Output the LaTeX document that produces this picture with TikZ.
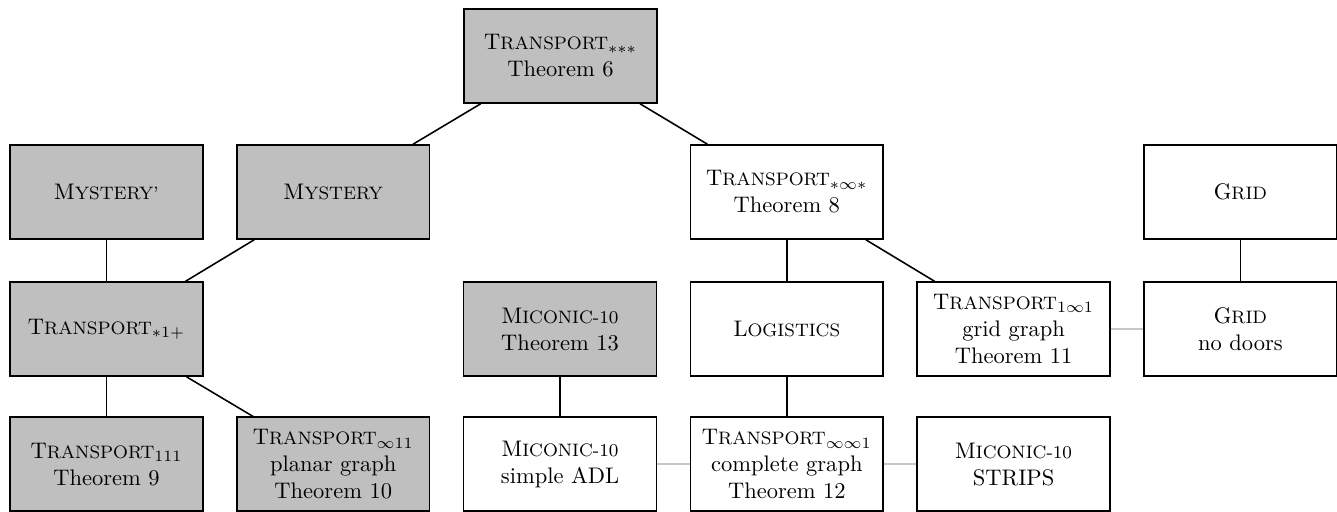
\documentclass[tikz,border=0pt]{standalone}
\usepackage{amsmath}
\usepackage{tikz}
\usetikzlibrary{arrows,positioning}
\usetikzlibrary{calc}

\newcommand{\fsc}[2]{#1{\footnotesize #2}}
\tikzset{
  domainbox/.style={draw, line width=0.7pt, align=center, minimum width=3.01cm, minimum height=1.467cm, inner sep=1pt},
  hard/.style={domainbox, fill=gray!50},
  easy/.style={domainbox, fill=white},
  reduces/.style={line width=0.7pt},
  sameline/.style={line width=0.7pt, draw=black!22}
}

\begin{document}
\begin{tikzpicture}
\useasboundingbox (0,0) rectangle (20.87,-7.99);
\node[hard] (tstar) at (8.75,-0.874) {\fsc{T}{RANSPORT}$_{***}$\\Theorem 6};
\node[hard] (mysteryp) at (1.662,-2.997) {\fsc{M}{YSTERY'}};
\node[hard] (mystery) at (5.202,-2.997) {\fsc{M}{YSTERY}};
\node[easy] (tsis) at (12.282,-2.997) {\fsc{T}{RANSPORT}$_{*\infty*}$\\Theorem 8};
\node[easy] (grid) at (19.362,-2.997) {\fsc{G}{RID}};
\node[hard] (tsop) at (1.662,-5.137) {\fsc{T}{RANSPORT}$_{*1+}$};
\node[hard] (mic13) at (8.742,-5.137) {\fsc{M}{ICONIC-10}\\Theorem 13};
\node[easy] (logistics) at (12.282,-5.137) {\fsc{L}{OGISTICS}};
\node[easy] (tgrid) at (15.822,-5.137) {\fsc{T}{RANSPORT}$_{1\infty1}$\\grid graph\\Theorem 11};
\node[easy] (gridnd) at (19.362,-5.137) {\fsc{G}{RID}\\no doors};
\node[hard] (t111) at (1.662,-7.247) {\fsc{T}{RANSPORT}$_{111}$\\Theorem 9};
\node[hard] (tplanar) at (5.202,-7.247) {\fsc{T}{RANSPORT}$_{\infty11}$\\planar graph\\Theorem 10};
\node[easy] (micadl) at (8.742,-7.247) {\fsc{M}{ICONIC-10}\\simple ADL};
\node[easy] (tcomplete) at (12.282,-7.247) {\fsc{T}{RANSPORT}$_{\infty\infty1}$\\complete graph\\Theorem 12};
\node[easy] (micstrips) at (15.822,-7.247) {\fsc{M}{ICONIC-10}\\STRIPS};
% reductions
\draw[reduces] (tstar) -- (mystery);
\draw[reduces] (tstar) -- (tsis);
\draw[reduces] (mysteryp) -- (tsop);
\draw[reduces] (mystery) -- (tsop);
\draw[reduces] (tsis) -- (logistics);
\draw[reduces] (tsis) -- (tgrid);
\draw[reduces] (grid) -- (gridnd);
\draw[reduces] (tsop) -- (t111);
\draw[reduces] (tsop) -- (tplanar);
\draw[reduces] (mic13) -- (micadl);
\draw[reduces] (logistics) -- (tcomplete);
% equivalent
\draw[sameline] (micadl) -- (tcomplete);
\draw[sameline] (tcomplete) -- (micstrips);
\draw[sameline] (tgrid) -- (gridnd);
\end{tikzpicture}
\end{document}
